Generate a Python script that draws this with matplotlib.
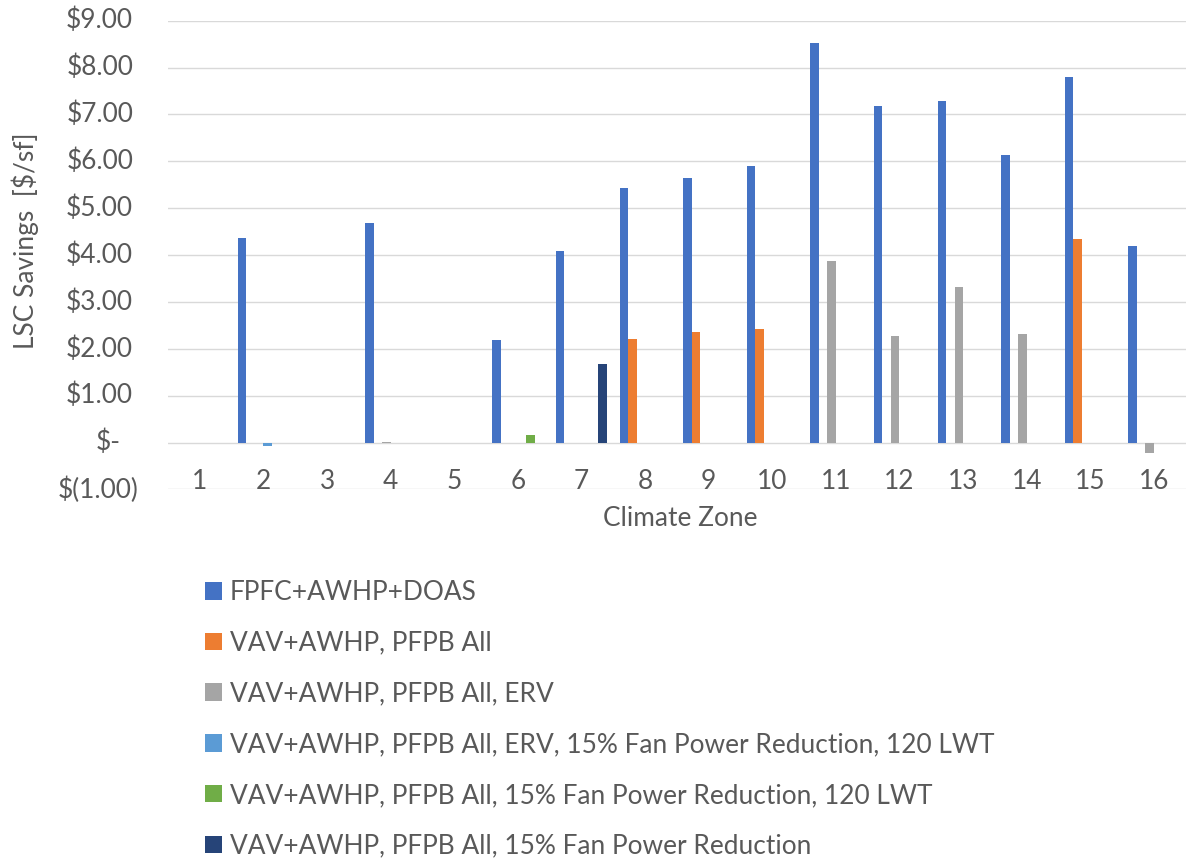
import numpy as np
import matplotlib
matplotlib.use("Agg")
import matplotlib.pyplot as plt
from matplotlib.patches import Patch

plt.rcParams['font.family'] = ['Lato', 'DejaVu Sans']

# ---- data -------------------------------------------------------------
zones = list(range(1, 17))
nan = np.nan

fpfc_doas = [nan, 4.37, nan, 4.69, nan, 2.19, 4.09, 5.43, 5.65, 5.90,
             8.52, 7.19, 7.29, 6.13, 7.80, 4.19]
vav_pfpb = [nan, nan, nan, nan, nan, nan, nan, 2.21, 2.36, 2.43,
            nan, nan, nan, nan, 4.35, nan]
vav_pfpb_erv = [nan, nan, nan, 0.01, nan, nan, nan, nan, nan, nan,
                3.88, 2.28, 3.32, 2.32, nan, -0.22]
vav_erv_fan_lwt = [nan, -0.08, nan, nan, nan, nan, nan, nan, nan, nan,
                   nan, nan, nan, nan, nan, nan]
vav_fan_lwt = [nan, nan, nan, nan, nan, 0.16, nan, nan, nan, nan,
               nan, nan, nan, nan, nan, nan]
vav_fan = [nan, nan, nan, nan, nan, nan, 1.68, nan, nan, nan,
           nan, nan, nan, nan, nan, nan]

series_names = [
    "FPFC+AWHP+DOAS",
    "VAV+AWHP, PFPB All",
    "VAV+AWHP, PFPB All, ERV",
    "VAV+AWHP, PFPB All, ERV, 15% Fan Power Reduction, 120 LWT",
    "VAV+AWHP, PFPB All, 15% Fan Power Reduction, 120 LWT",
    "VAV+AWHP, PFPB All, 15% Fan Power Reduction",
]
series_values = [fpfc_doas, vav_pfpb, vav_pfpb_erv,
                 vav_erv_fan_lwt, vav_fan_lwt, vav_fan]
colors = ["#4472C4", "#ED7D31", "#A5A5A5", "#5B9BD5", "#70AD47", "#264478"]

y_ticks = [9, 8, 7, 6, 5, 4, 3, 2, 1, 0, -1]
y_tick_labels = ["$9.00", "$8.00", "$7.00", "$6.00", "$5.00", "$4.00",
                 "$3.00", "$2.00", "$1.00", "$-", "$(1.00)"]

# ---- figure -----------------------------------------------------------
text_color = "#595959"
grid_color = "#D9D9D9"
fs = 18.9

fig = plt.figure(figsize=(11.86, 8.59), dpi=100)
ax = fig.add_axes([0.1417, 0.4302, 0.858, 0.5457])

x = np.array(zones, dtype=float)
n = len(series_values)
w = 0.8 / n
for i, (vals, col) in enumerate(zip(series_values, colors)):
    ax.bar(x + (i - (n - 1) / 2) * w, vals, width=w, color=col, zorder=3)

ax.set_xlim(0.5, 16.5)
ax.set_ylim(-1, 9)
ax.set_yticks(y_ticks)
ax.yaxis.grid(True, color=grid_color, linewidth=1.0, zorder=0)
ax.set_axisbelow(True)
ax.tick_params(axis='both', length=0, labelleft=False, labelbottom=False)
ax.set_xticks([])
for s in ax.spines.values():
    s.set_visible(False)

# y tick labels (accounting style alignment)
ytrans = ax.get_yaxis_transform()
for v, lab in zip(y_ticks, y_tick_labels):
    if lab == "$-":
        xo = -0.047
    elif lab.startswith("$("):
        xo = -0.0294
    else:
        xo = -0.0343
    ax.text(xo, v, lab, transform=ytrans, ha='right', va='center',
            fontsize=fs, color=text_color)

# category labels sit just above the bottom gridline
for z in zones:
    ax.text(z, -0.98, str(z), ha='center', va='baseline',
            fontsize=fs, color=text_color)

fig.text(25 / 1186, 1 - 241 / 859, "LSC Savings  [$/sf]", rotation=90,
         ha='center', va='center', fontsize=fs, color=text_color)
fig.text(680 / 1186, 1 - 518 / 859, "Climate Zone", ha='center',
         va='center', fontsize=fs, color=text_color)

handles = [Patch(facecolor=c, edgecolor='none') for c in colors]
leg = fig.legend(handles, series_names, loc='upper left',
                 bbox_to_anchor=(205 / 1186, 1 - 580 / 859),
                 frameon=False, fontsize=fs, handlelength=0.65,
                 handleheight=0.65, handletextpad=0.3, labelspacing=0.98,
                 borderpad=0, borderaxespad=0)
for t in leg.get_texts():
    t.set_color(text_color)

fig.savefig("out.png", dpi=100)
